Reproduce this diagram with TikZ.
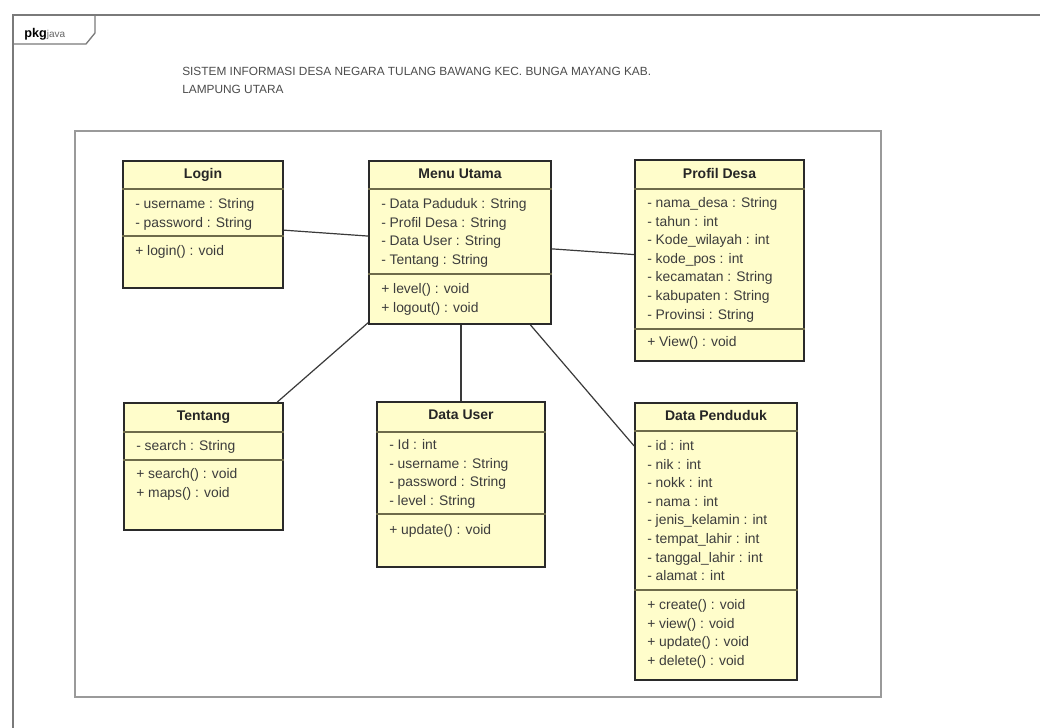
\documentclass[tikz,border=0pt]{standalone}
\usepackage{fontspec}
\setmainfont{Liberation Sans}
\usetikzlibrary{fit,shadows}

\definecolor{classfill}{HTML}{FFFDCB}
\definecolor{classline}{HTML}{2A2A2A}
\definecolor{sepline}{HTML}{6E6B4A}
\definecolor{frameline}{HTML}{7A7A7A}
\definecolor{innerline}{HTML}{9A9A9A}
\definecolor{txt}{HTML}{3C3C3C}
\definecolor{linkline}{HTML}{3A3A3A}

\newcommand\attrfont{\fontsize{10.4}{12}\selectfont}
\newcommand\namefont{\fontsize{10.5}{12}\selectfont\bfseries}
\newcommand\titlefont{\fontsize{8.9}{13.5}\selectfont}

% one compartment of text rows: name prefix, x, first row y, list of rows
\newcommand\classrows[4]{%
  \foreach \rowtext [count=\i] in {#4} {%
    \node[attr] (#1\i) at (#2,{#3+(\i-1)*18.6}) {\rowtext};%
  }%
}

\tikzset{
  classbox/.style={draw=classline, fill=classfill, line width=1.4pt, inner sep=0pt,
    drop shadow={shadow xshift=1pt, shadow yshift=-1pt, opacity=0.35, fill=black}},
  sep/.style={draw=sepline, line width=1.1pt},
  attr/.style={anchor=west, inner sep=0pt, text=txt, font=\attrfont,
    text height=7.4pt, text depth=2.1pt},
  cname/.style={inner sep=0pt, text=black!85, font=\namefont,
    text height=7.6pt, text depth=2.2pt},
  link/.style={draw=linkline, line width=0.9pt},
}

\begin{document}
\begin{tikzpicture}[x=0.75pt, y=-0.75pt]
\useasboundingbox (0,0) rectangle (1040,728);
\fill[white] (0,0) rectangle (1040,728);

% package frame and its tab
\draw[frameline, line width=1pt] (1040,15) -- (13,15) -- (13,728);
\draw[frameline, line width=1pt] (13,44) -- (86,44) -- (95,33) -- (95,15);
\node[anchor=base west, inner sep=0pt] (pkg) at (24,37)
  {{\fontsize{9.5}{11}\selectfont\bfseries pkg}{\fontsize{7.5}{9}\selectfont\color{black!60}java}};

% diagram title
\node[anchor=north west, inner sep=0pt, align=left, text=black!70, font=\titlefont] (title) at (182,67)
  {SISTEM INFORMASI DESA NEGARA TULANG BAWANG KEC. BUNGA MAYANG KAB.\\LAMPUNG UTARA};

% inner boundary
\node[draw=innerline, fill=white, line width=1pt, inner sep=0pt, fit={(75,131)(881,697)},
  drop shadow={shadow xshift=1pt, shadow yshift=-1pt, opacity=0.2, fill=black}] (system) {};

% class boxes
\node[classbox, fit={(123,161)(283,288)}] (login) {};
\node[classbox, fit={(369,161)(551,324)}] (menu) {};
\node[classbox, fit={(635,160)(804,361)}] (profil) {};
\node[classbox, fit={(124,403)(283,530)}] (tentang) {};
\node[classbox, fit={(377,402)(545,567)}] (user) {};
\node[classbox, fit={(635,403)(797,680)}] (penduduk) {};

% associations
\draw[link] (login) -- (menu);
\draw[link] (menu) -- (profil);
\draw[link] (menu) -- (tentang);
\draw[link] (menu.south -| user.north) -- (user.north);
\draw[link] (menu) -- (penduduk);

% compartment separators
\draw[sep] (login.west |- 0,189) -- (login.east |- 0,189);
\draw[sep] (login.west |- 0,236) -- (login.east |- 0,236);
\draw[sep] (menu.west |- 0,189) -- (menu.east |- 0,189);
\draw[sep] (menu.west |- 0,274) -- (menu.east |- 0,274);
\draw[sep] (profil.west |- 0,189) -- (profil.east |- 0,189);
\draw[sep] (profil.west |- 0,329) -- (profil.east |- 0,329);
\draw[sep] (tentang.west |- 0,432) -- (tentang.east |- 0,432);
\draw[sep] (tentang.west |- 0,460) -- (tentang.east |- 0,460);
\draw[sep] (user.west |- 0,432) -- (user.east |- 0,432);
\draw[sep] (user.west |- 0,514) -- (user.east |- 0,514);
\draw[sep] (penduduk.west |- 0,431) -- (penduduk.east |- 0,431);
\draw[sep] (penduduk.west |- 0,590) -- (penduduk.east |- 0,590);

% class names
\node[cname] (login-name) at (203,175) {Login};
\node[cname] (menu-name) at (460,175) {Menu Utama};
\node[cname] (profil-name) at (719.5,175) {Profil Desa};
\node[cname] (tentang-name) at (203.5,417) {Tentang};
\node[cname] (user-name) at (461,416) {Data User};
\node[cname] (penduduk-name) at (716,417) {Data Penduduk};

% attributes and operations
\classrows{login-a}{135}{205}{- username : String, - password : String}
\classrows{login-o}{135}{252}{+ login() : void}

\classrows{menu-a}{381}{205}{- Data Paduduk : String, - Profil Desa : String, - Data User : String, - Tentang : String}
\classrows{menu-o}{381}{290}{+ level() : void, + logout() : void}

\classrows{profil-a}{647}{204}{- nama\_desa : String, - tahun : int, - Kode\_wilayah : int, - kode\_pos : int, - kecamatan : String, - kabupaten : String, - Provinsi : String}
\classrows{profil-o}{647}{343}{+ View() : void}

\classrows{tentang-a}{136}{447}{- search : String}
\classrows{tentang-o}{136}{475}{+ search() : void, + maps() : void}

\classrows{user-a}{389}{446}{- Id : int, - username : String, - password : String, - level : String}
\classrows{user-o}{389}{531}{+ update() : void}

\classrows{penduduk-a}{647}{447}{- id : int, - nik : int, - nokk : int, - nama : int, - jenis\_kelamin : int, - tempat\_lahir : int, - tanggal\_lahir : int, - alamat : int}
\classrows{penduduk-o}{647}{606}{+ create() : void, + view() : void, + update() : void, + delete() : void}
\end{tikzpicture}
\end{document}
